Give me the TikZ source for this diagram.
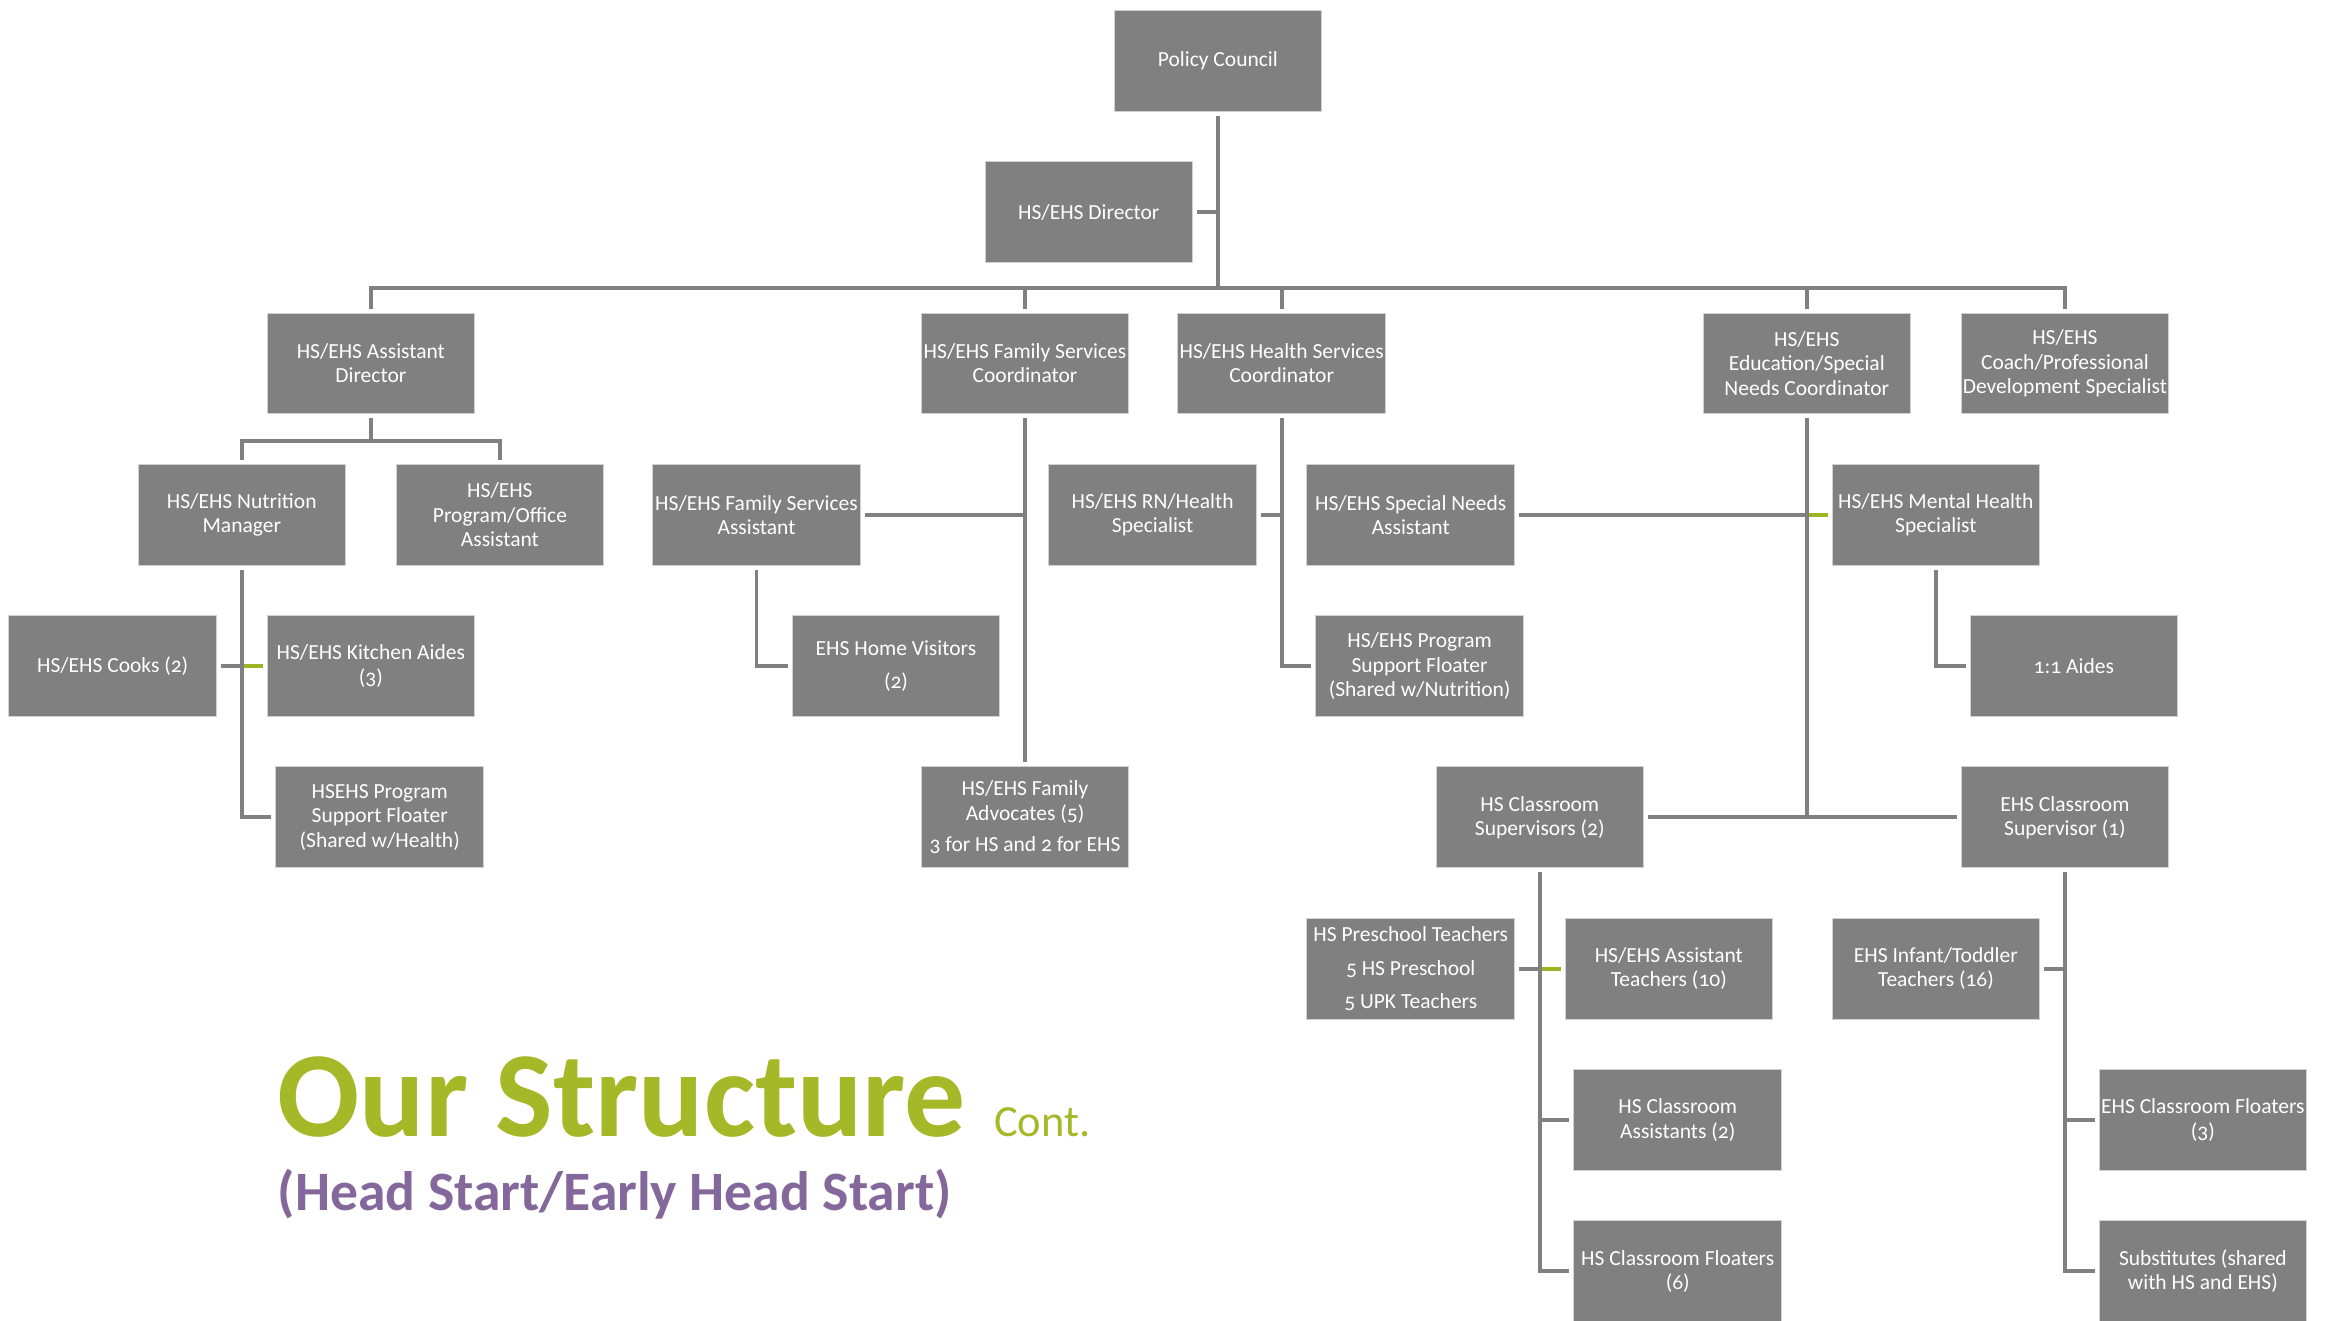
\documentclass[tikz,border=0pt]{standalone}
\usepackage{fontspec}
\setmainfont{Carlito}[Numbers=OldStyle]
\definecolor{boxgray}{RGB}{128,128,128}
\definecolor{linegray}{RGB}{128,128,128}
\definecolor{edgegray}{RGB}{210,210,210}
\definecolor{limeline}{RGB}{158,180,36}
\definecolor{titlegreen}{RGB}{164,184,40}
\definecolor{titlepurple}{RGB}{132,104,155}
\begin{document}
\begin{tikzpicture}[x=1pt,y=-1pt,
  box/.style={rectangle, fill=boxgray, draw=edgegray, line width=0.6pt,
    minimum width=140pt, minimum height=68pt, inner sep=0pt, outer sep=3pt,
    text=white, align=center, font=\fontsize{14.5}{16.3}\selectfont},
  conn/.style={draw=linegray, line width=2.6pt},
  hl/.style={draw=limeline, line width=2.6pt}]
\useasboundingbox (0,0) rectangle (1568,890);
\clip (0,0) rectangle (1568,890);

% boxes
\node[box] (pc) at (821,41) {Policy Council};
\node[box] (dir) at (734,143) {HS/EHS Director};
\node[box] (ad) at (250,245) {HS/EHS Assistant\\Director};
\node[box] (fsc) at (691,245) {HS/EHS Family Services\\Coordinator};
\node[box] (hsc) at (864,245) {HS/EHS Health Services\\Coordinator};
\node[box] (esc) at (1218,245) {HS/EHS\\Education/Special\\Needs Coordinator};
\node[box] (cpd) at (1392,245) {HS/EHS\\Coach/Professional\\Development Specialist};
\node[box] (nm) at (163,347) {HS/EHS Nutrition\\Manager};
\node[box] (poa) at (337,347) {HS/EHS\\Program/Office\\Assistant};
\node[box] (fsa) at (510,347) {HS/EHS Family Services\\Assistant};
\node[box] (rn) at (777,347) {HS/EHS RN/Health\\Specialist};
\node[box] (sna) at (951,347) {HS/EHS Special Needs\\Assistant};
\node[box] (mh) at (1305,347) {HS/EHS Mental Health\\Specialist};
\node[box] (cooks) at (76,449) {HS/EHS Cooks (2)};
\node[box] (ka) at (250,449) {HS/EHS Kitchen Aides\\(3)};
\node[box] (hv) at (604,449) {EHS Home Visitors\\[6pt](2)};
\node[box] (psf) at (957,449) {HS/EHS Program\\Support Floater\\(Shared w/Nutrition)};
\node[box] (aides) at (1398,449) {1:1 Aides};
\node[box] (psf2) at (256,551) {HSEHS Program\\Support Floater\\(Shared w/Health)};
\node[box] (fa) at (691,551) {HS/EHS Family\\Advocates (5)\\[5pt]3 for HS and 2 for EHS};
\node[box] (hcs) at (1038,551) {HS Classroom\\Supervisors (2)};
\node[box] (ecs) at (1392,551) {EHS Classroom\\Supervisor (1)};
\node[box] (pt) at (951,653) {HS Preschool Teachers\\[6pt]5 HS Preschool\\[6pt]5 UPK Teachers};
\node[box] (at) at (1125,653) {HS/EHS Assistant\\Teachers (10)};
\node[box] (it) at (1305,653) {EHS Infant/Toddler\\Teachers (16)};
\node[box] (hca) at (1131,755) {HS Classroom\\Assistants (2)};
\node[box] (ecf) at (1485,755) {EHS Classroom Floaters\\(3)};
\node[box] (hcf) at (1131,857) {HS Classroom Floaters\\(6)};
\node[box] (sub) at (1485,857) {Substitutes (shared\\with HS and EHS)};

% junction points
\coordinate (bus) at (821,194);
\coordinate (adj) at (250,297);

% green links (drawn first, under the gray trunks)
\draw[hl] (cooks.east -| nm.south) -- (ka.west);
\draw[hl] (sna.east -| esc.south) -- (mh.west);
\draw[hl] (pt.east -| hcs.south) -- (at.west);

% gray connectors
\draw[conn] (pc.south) -- (pc.south |- bus);
\draw[conn] (dir.east) -- (dir.east -| pc.south);
\draw[conn] (ad.north) |- (bus) -| (cpd.north);
\foreach \n in {fsc,hsc,esc} \draw[conn] (\n.north) -- (\n.north |- bus);

\draw[conn] (ad.south) -- (adj);
\draw[conn] (nm.north) |- (adj) -| (poa.north);

\draw[conn] (nm.south) |- (psf2.west);
\draw[conn] (cooks.east) -- (cooks.east -| nm.south);

\draw[conn] (fsc.south) -- (fa.north);
\draw[conn] (fsa.east) -- (fsa.east -| fsc.south);
\draw[conn] (fsa.south) |- (hv.west);

\draw[conn] (hsc.south) |- (psf.west);
\draw[conn] (rn.east) -- (rn.east -| hsc.south);

\draw[conn] (sna.east) -- (sna.east -| esc.south);
\draw[conn] (esc.south) -- (esc.south |- hcs.east);
\draw[conn] (hcs.east) -- (ecs.west);
\draw[conn] (mh.south) |- (aides.west);

\draw[conn] (hcs.south) |- (hcf.west);
\draw[conn] (hca.west) -- (hca.west -| hcs.south);
\draw[conn] (pt.east) -- (pt.east -| hcs.south);

\draw[conn] (ecs.south) |- (sub.west);
\draw[conn] (ecf.west) -- (ecf.west -| ecs.south);
\draw[conn] (it.east) -- (it.east -| ecs.south);

% title
\node[anchor=base west, inner sep=0pt, text=titlegreen,
  font=\bfseries\fontsize{82}{82}\selectfont] (title) at (187,766) {Our Structure};
\node[anchor=base west, inner sep=0pt, text=titlegreen,
  font=\fontsize{30}{30}\selectfont] (cont) at (670,766) {Cont.};
\node[anchor=base west, inner sep=0pt, text=titlepurple,
  font=\bfseries\fontsize{37.5}{37.5}\selectfont] (subtitle) at (187,816) {(Head Start/Early Head Start)};
\end{tikzpicture}
\end{document}
